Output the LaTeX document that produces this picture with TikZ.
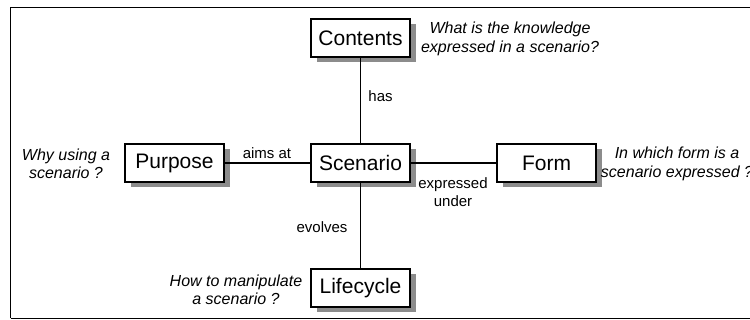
\documentclass[tikz,border=0pt]{standalone}
\usepackage{fontspec}
\setmainfont{Liberation Sans}
\usetikzlibrary{shadows}

\begin{document}
\begin{tikzpicture}[x=0.5pt, y=0.5pt, line width=0.55pt, line cap=round,
    concept/.style={draw, line width=0.75pt, fill=white, minimum width=49.5pt,
      minimum height=19pt, inner sep=0pt, font=\fontsize{10.5}{12}\selectfont,
      drop shadow={shadow xshift=3pt, shadow yshift=-2.5pt, fill=black!45, opacity=1}},
    question/.style={align=center, inner sep=0pt, font=\fontsize{8}{9.2}\selectfont\itshape},
    relation/.style={align=center, inner sep=0pt, font=\fontsize{7.5}{9}\selectfont}]
      \useasboundingbox (0,0) rectangle (750,320);
      \draw[line width=0.9pt, line cap=butt] (10.5,1.5) -- (10.5,312.5) -- (760,312.5);
      \draw[line width=0.9pt, line cap=butt] (10.5,1.5) -- (760,1.5);
      % les cinq facettes
      \node[concept] (contents)  at (360.5,282) {Contents};
      \node[concept] (scenario)  at (360.5,157) {Scenario};
      \node[concept] (purpose)   at (174.5,157) {Purpose};
      \node[concept] (form)      at (546.5,157) {Form};
      \node[concept] (lifecycle) at (360.5,32)  {Lifecycle};
      \draw (contents) -- (scenario);
      \draw (purpose) -- (scenario);
      \draw (scenario) -- (form);
      \draw (scenario) -- (lifecycle);
      \node[relation] (has)     at (380.5,224) {has};
      \node[relation] (aimsat)  at (267,167)   {aims at};
      \node[relation] (exprund) at (453,128)   {expressed\\under};
      \node[relation] (evolves) at (322,93)    {evolves};
      % questions
      \node[question] (qcontents)  at (510,281) {What is the knowledge\\expressed in a scenario?};
      \node[question] (qpurpose)   at (66,156)  {Why using a\\scenario ?};
      \node[question] (qform)      at (677,156) {In which form is a\\scenario expressed ?};
      \node[question] (qlifecycle) at (236,30)  {How to manipulate\\a scenario ?};
    \end{tikzpicture}
\end{document}
